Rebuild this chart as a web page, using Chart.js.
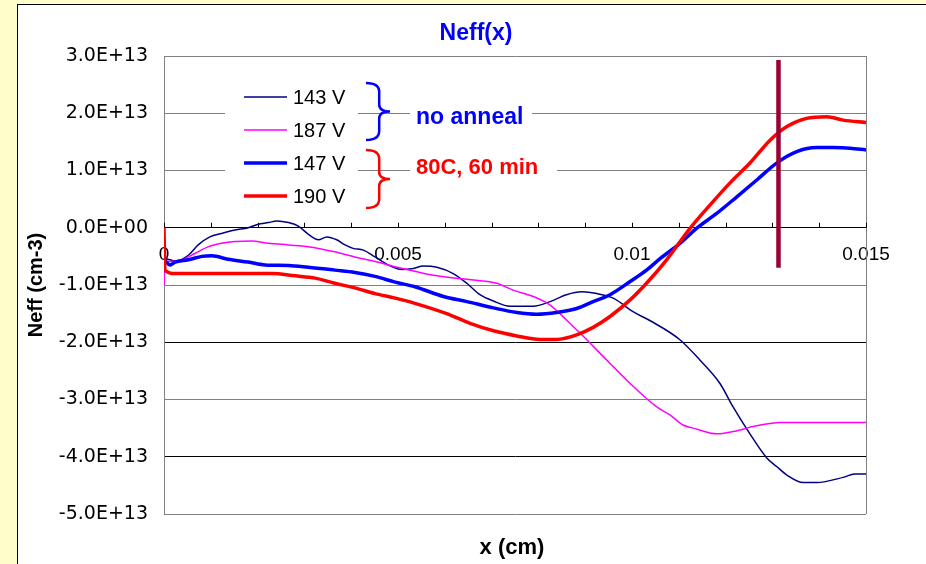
<!DOCTYPE html>
<html>
<head>
<meta charset="utf-8">
<script src="https://cdn.jsdelivr.net/npm/chart.js@4"></script>
<style>
  body { margin: 0; background: #ffffcc; overflow: hidden; }
  #panel { position: absolute; left: 17px; top: 4px; width: 920px; height: 570px; background: #fff; border-left: 1px solid #000; border-top: 1px solid #000; }
  #chart { position: absolute; left: 0; top: 0; }
</style>
</head>
<body>
<div id="panel"></div>
<canvas id="chart" width="926" height="564"></canvas>
<script>
// ---- Data: x in cm, Neff in cm-3 ----
const x143 = [0, 0.13e-3, 0.24e-3, 0.52e-3, 0.73e-3, 0.98e-3, 1.23e-3, 1.52e-3, 1.80e-3, 2.01e-3, 2.23e-3, 2.41e-3, 2.66e-3, 2.87e-3, 3.08e-3, 3.30e-3, 3.48e-3, 3.69e-3, 3.87e-3, 4.04e-3, 4.26e-3, 4.51e-3, 4.79e-3, 5.08e-3, 5.33e-3, 5.54e-3, 5.83e-3, 6.18e-3, 6.47e-3, 6.75e-3, 7.04e-3, 7.39e-3, 7.89e-3, 8.25e-3, 8.60e-3, 8.93e-3, 9.25e-3, 9.60e-3, 10.03e-3, 10.38e-3, 11.03e-3, 11.45e-3, 11.88e-3, 12.16e-3, 12.52e-3, 12.88e-3, 13.09e-3, 13.31e-3, 13.66e-3, 13.95e-3, 14.51e-3, 14.76e-3, 15.0e-3];
const n143 = [-0.53e13, -0.56e13, -0.58e13, -0.48e13, -0.30e13, -0.16e13, -0.10e13, -0.04e13, 0.0, 0.06e13, 0.09e13, 0.12e13, 0.09e13, 0.03e13, -0.11e13, -0.21e13, -0.16e13, -0.21e13, -0.30e13, -0.36e13, -0.39e13, -0.51e13, -0.65e13, -0.73e13, -0.71e13, -0.67e13, -0.69e13, -0.80e13, -0.97e13, -1.17e13, -1.28e13, -1.37e13, -1.37e13, -1.29e13, -1.17e13, -1.12e13, -1.15e13, -1.23e13, -1.47e13, -1.62e13, -1.96e13, -2.31e13, -2.72e13, -3.13e13, -3.60e13, -4.02e13, -4.17e13, -4.32e13, -4.45e13, -4.45e13, -4.36e13, -4.30e13, -4.30e13];

const x187 = [0, 0.02e-3, 0.09e-3, 0.38e-3, 0.66e-3, 0.95e-3, 1.23e-3, 1.52e-3, 1.87e-3, 2.23e-3, 2.66e-3, 3.08e-3, 3.65e-3, 4.08e-3, 4.51e-3, 4.94e-3, 5.36e-3, 5.75e-3, 6.47e-3, 7.11e-3, 7.46e-3, 7.89e-3, 8.25e-3, 8.60e-3, 8.89e-3, 9.46e-3, 9.96e-3, 10.53e-3, 10.81e-3, 11.10e-3, 11.31e-3, 11.81e-3, 12.16e-3, 12.66e-3, 13.16e-3, 15.0e-3];
const n187 = [-1.0e13, -0.62e13, -0.59e13, -0.56e13, -0.45e13, -0.33e13, -0.27e13, -0.24e13, -0.23e13, -0.27e13, -0.30e13, -0.33e13, -0.42e13, -0.51e13, -0.59e13, -0.68e13, -0.76e13, -0.83e13, -0.90e13, -0.97e13, -1.09e13, -1.20e13, -1.35e13, -1.61e13, -1.84e13, -2.31e13, -2.72e13, -3.13e13, -3.27e13, -3.45e13, -3.50e13, -3.60e13, -3.56e13, -3.46e13, -3.40e13, -3.40e13];

const x147 = [0, 0.13e-3, 0.24e-3, 0.52e-3, 0.81e-3, 1.02e-3, 1.37e-3, 1.80e-3, 2.16e-3, 2.66e-3, 3.08e-3, 3.65e-3, 4.08e-3, 4.51e-3, 4.94e-3, 5.36e-3, 5.97e-3, 6.47e-3, 7.04e-3, 7.54e-3, 7.96e-3, 8.39e-3, 8.82e-3, 9.17e-3, 9.53e-3, 9.96e-3, 10.31e-3, 10.60e-3, 11.03e-3, 11.38e-3, 11.81e-3, 12.24e-3, 12.66e-3, 13.09e-3, 13.52e-3, 13.95e-3, 14.30e-3, 14.66e-3, 15.0e-3];
const n147 = [-0.55e13, -0.65e13, -0.60e13, -0.56e13, -0.50e13, -0.49e13, -0.55e13, -0.60e13, -0.65e13, -0.66e13, -0.69e13, -0.74e13, -0.78e13, -0.85e13, -0.95e13, -1.03e13, -1.20e13, -1.29e13, -1.40e13, -1.48e13, -1.51e13, -1.48e13, -1.41e13, -1.29e13, -1.17e13, -0.94e13, -0.74e13, -0.54e13, -0.27e13, -0.01e13, 0.25e13, 0.54e13, 0.83e13, 1.13e13, 1.33e13, 1.40e13, 1.40e13, 1.39e13, 1.36e13];

const x190 = [0, 0.02e-3, 0.24e-3, 0.66e-3, 1.80e-3, 2.30e-3, 2.80e-3, 3.23e-3, 3.65e-3, 4.08e-3, 4.51e-3, 4.94e-3, 5.36e-3, 6.04e-3, 6.54e-3, 7.04e-3, 7.54e-3, 8.03e-3, 8.39e-3, 8.82e-3, 9.17e-3, 9.53e-3, 9.96e-3, 10.31e-3, 10.74e-3, 11.24e-3, 11.67e-3, 12.09e-3, 12.52e-3, 12.95e-3, 13.31e-3, 13.73e-3, 14.16e-3, 14.51e-3, 15.0e-3];
const n190 = [0.0, -0.74e13, -0.80e13, -0.80e13, -0.80e13, -0.80e13, -0.84e13, -0.88e13, -0.97e13, -1.05e13, -1.15e13, -1.23e13, -1.32e13, -1.50e13, -1.67e13, -1.80e13, -1.89e13, -1.95e13, -1.95e13, -1.87e13, -1.74e13, -1.55e13, -1.26e13, -0.97e13, -0.56e13, -0.01e13, 0.40e13, 0.78e13, 1.13e13, 1.53e13, 1.77e13, 1.91e13, 1.94e13, 1.88e13, 1.84e13];

// vertical marker line
const markerX = [0.01313, 0.01313];
const markerN = [2.93e13, -0.70e13];

const seriesLabels = ["143 V", "187 V", "147 V", "190 V"];
const groupLabels = ["no anneal", "80C, 60 min"];
const xLabelTicks = [0, 0.005, 0.01, 0.015];

function pts(xs, ys) {
  return xs.map((x, i) => ({ x: x, y: ys[i] }));
}

function sciLabel(v) {
  const parts = v.toExponential(1).split("e");
  const e = parseInt(parts[1], 10);
  return parts[0] + "E" + (e < 0 ? "-" : "+") + String(Math.abs(e)).padStart(2, "0");
}

const FONT = '"Liberation Sans", Arial, sans-serif';

// ---- Title, axis title, frame, minor ticks, in-plot legend ----
const decorations = {
  id: "decorations",
  beforeDatasetsDraw(chart) {
    const ctx = chart.ctx;
    const a = chart.chartArea;
    const xs = chart.scales.x, ys = chart.scales.y;
    const y0 = ys.getPixelForValue(0);
    ctx.save();
    ctx.strokeStyle = "#808080";
    ctx.lineWidth = 1;
    ctx.beginPath();
    ctx.moveTo(a.right + 0.5, a.top);
    ctx.lineTo(a.right + 0.5, a.bottom);
    ctx.stroke();
    ctx.strokeStyle = "#000";
    xs.ticks.forEach(t => {
      const px = Math.round(xs.getPixelForValue(t.value)) + 0.5;
      ctx.beginPath();
      ctx.moveTo(px, y0);
      ctx.lineTo(px, y0 - 5);
      ctx.stroke();
    });
    ctx.restore();
  },
  afterDraw(chart) {
    const ctx = chart.ctx;
    const a = chart.chartArea;
    ctx.save();
    // chart title
    ctx.fillStyle = "#0000ff";
    ctx.font = "bold 23px " + FONT;
    ctx.textAlign = "center";
    ctx.textBaseline = "middle";
    ctx.fillText("Neff(x)", 476, 34);
    // x axis title
    ctx.fillStyle = "#000";
    ctx.font = "bold 22px " + FONT;
    ctx.fillText("x (cm)", 512, 548);

    // legend box
    ctx.fillStyle = "#fff";
    ctx.fillRect(a.left + 61, a.top + 24, 133, 132);
    const ds = chart.data.datasets;
    ctx.textAlign = "left";
    ctx.font = "20px " + FONT;
    for (let i = 0; i < 4; i++) {
      const y = a.top + 41 + i * 33;
      ctx.strokeStyle = ds[i].borderColor;
      ctx.lineWidth = ds[i].borderWidth;
      ctx.beginPath();
      ctx.moveTo(a.left + 80, y);
      ctx.lineTo(a.left + 123, y);
      ctx.stroke();
      ctx.fillStyle = "#000";
      ctx.fillText(seriesLabels[i], a.left + 129, y + 1);
    }

    // braces
    function brace(x, top, bot, w, color) {
      const mid = (top + bot) / 2, c = x + w * 0.55;
      ctx.strokeStyle = color;
      ctx.lineWidth = 2.5;
      ctx.beginPath();
      ctx.moveTo(x, top);
      ctx.quadraticCurveTo(c, top, c, top + 9);
      ctx.lineTo(c, mid - 7);
      ctx.quadraticCurveTo(c, mid, x + w, mid);
      ctx.quadraticCurveTo(c, mid, c, mid + 7);
      ctx.lineTo(c, bot - 9);
      ctx.quadraticCurveTo(c, bot, x, bot);
      ctx.stroke();
    }
    brace(a.left + 202, a.top + 27, a.top + 84, 24, "#0000ff");
    brace(a.left + 202, a.top + 94, a.top + 152, 24, "#ff0000");

    // group labels
    ctx.fillStyle = "#fff";
    ctx.fillRect(a.left + 246, a.top + 47, 122, 28);
    ctx.fillRect(a.left + 246, a.top + 99, 147, 28);
    ctx.font = "bold 23px " + FONT;
    ctx.fillStyle = "#0000ff";
    ctx.fillText(groupLabels[0], a.left + 252, a.top + 62);
    ctx.font = "bold 22px " + FONT;
    ctx.fillStyle = "#ff0000";
    ctx.fillText(groupLabels[1], a.left + 252, a.top + 112);
    ctx.restore();
  }
};

const datasets = [
  { label: seriesLabels[0], data: pts(x143, n143), borderColor: "#000080", borderWidth: 1.5, order: 4 },
  { label: seriesLabels[1], data: pts(x187, n187), borderColor: "#ff00ff", borderWidth: 1.5, order: 3 },
  { label: seriesLabels[2], data: pts(x147, n147), borderColor: "#0000ff", borderWidth: 3.5, order: 2 },
  { label: seriesLabels[3], data: pts(x190, n190), borderColor: "#ff0000", borderWidth: 3.5, order: 1 },
  { label: "", data: pts(markerX, markerN), borderColor: "#990033", borderWidth: 4.5, order: 0 }
];
datasets.forEach(d => {
  d.showLine = true;
  d.pointRadius = 0;
  d.cubicInterpolationMode = "monotone";
  d.fill = false;
});

new Chart(document.getElementById("chart"), {
  type: "scatter",
  data: { datasets: datasets },
  options: {
    responsive: false,
    animation: false,
    devicePixelRatio: 1,
    layout: { padding: { left: 0, right: 60, top: 56, bottom: 50 } },
    plugins: { legend: { display: false }, tooltip: { enabled: false }, title: { display: false } },
    scales: {
      x: {
        type: "linear",
        min: 0,
        max: 0.015,
        position: { y: 0 },
        grid: { drawOnChartArea: false, drawTicks: false },
        border: { display: true, color: "#000", width: 1 },
        ticks: {
          stepSize: 0.001,
          autoSkip: false,
          maxRotation: 0,
          padding: 16,
          color: "#000",
          font: { family: FONT, size: 19 },
          callback: v => {
            const hit = xLabelTicks.find(t => Math.abs(t - v) < 1e-9);
            return hit === undefined ? "" : String(hit);
          }
        }
      },
      y: {
        min: -5e13,
        max: 3e13,
        afterFit(s) { s.width = 164; },
        grid: {
          drawTicks: false,
          color: c => ([0, -2e13, -4e13].some(v => Math.abs(c.tick.value - v) < 1e6) ? "#000" : "#808080")
        },
        border: { color: "#808080" },
        ticks: {
          stepSize: 1e13,
          padding: 16,
          color: "#000",
          font: { family: '"DejaVu Sans", sans-serif', size: 19 },
          callback: v => sciLabel(v)
        },
        title: {
          display: true,
          text: "Neff (cm-3)",
          color: "#000",
          font: { family: FONT, size: 20, weight: "bold" },
          padding: { top: 24, bottom: 0 }
        }
      }
    }
  },
  plugins: [decorations]
});
</script>
</body>
</html>
